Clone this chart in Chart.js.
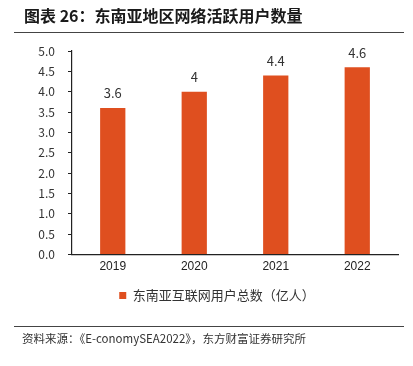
<!DOCTYPE html>
<html>
<head>
<meta charset="utf-8">
<script src="https://cdn.jsdelivr.net/npm/chart.js@4/dist/chart.umd.min.js"></script>
<style>
  html, body { margin: 0; padding: 0; background: #fff; }
  #wrap { width: 413px; height: 366px; position: relative; }
</style>
</head>
<body>
<div id="wrap"><canvas id="chart" width="413" height="366"></canvas></div>
<script>
// --- data ---
const years = ['2019', '2020', '2021', '2022'];
const users = [3.6, 4, 4.4, 4.6];
const seriesName = '东南亚互联网用户总数（亿人）';
const yTicks = [0, 0.5, 1, 1.5, 2, 2.5, 3, 3.5, 4, 4.5, 5];

const titleText = '图表 26：东南亚地区网络活跃用户数量';
const sourceText = '资料来源：《E-conomySEA2022》，东方财富证券研究所';
const barColor = '#DF4F1F';
const cjk = "'Noto Sans CJK SC', sans-serif";

// 标题、分隔线、来源 + 数据标签
const decor = {
  id: 'decor',
  afterDraw(chart) {
    const ctx = chart.ctx;
    ctx.save();
    ctx.fillStyle = '#1a1a1a';
    ctx.font = "bold 16px " + cjk;
    ctx.textBaseline = 'middle';
    ctx.textAlign = 'left';
    ctx.fillText(titleText, 24, 16);

    ctx.strokeStyle = '#444';
    ctx.lineWidth = 1.2;
    ctx.beginPath(); ctx.moveTo(14, 32.5); ctx.lineTo(404, 32.5); ctx.stroke();
    ctx.beginPath(); ctx.moveTo(14, 326.5); ctx.lineTo(404, 326.5); ctx.stroke();

    ctx.fillStyle = '#333';
    ctx.font = "11.5px " + cjk;
    ctx.fillText(sourceText, 22, 339);

    // 柱顶数值
    const meta = chart.getDatasetMeta(0);
    ctx.font = "13px " + cjk;
    ctx.textAlign = 'center';
    ctx.textBaseline = 'bottom';
    meta.data.forEach((bar, i) => {
      ctx.fillText(String(users[i]), bar.x, bar.y - 8);
    });
    ctx.restore();
  }
};

new Chart(document.getElementById('chart'), {
  type: 'bar',
  data: {
    labels: years,
    datasets: [{
      label: seriesName,
      data: users,
      backgroundColor: barColor,
      barPercentage: 0.31,
      categoryPercentage: 1.0
    }]
  },
  options: {
    responsive: false,
    animation: false,
    events: [],
    layout: { padding: { top: 51, right: 15, bottom: 54, left: 36 } },
    plugins: {
      legend: {
        position: 'bottom',
        labels: {
          boxWidth: 7, boxHeight: 7, padding: 10,
          color: '#333',
          font: { size: 13, family: cjk }
        }
      },
      tooltip: { enabled: false }
    },
    scales: {
      x: {
        grid: { display: false, drawTicks: false },
        border: { color: '#222', width: 1.2 },
        ticks: { color: '#222', font: { size: 12, family: "'Liberation Sans', sans-serif" }, padding: 5 }
      },
      y: {
        min: 0, max: 5,
        afterFit(scale) { scale.width = 36; },
        afterBuildTicks(scale) { scale.ticks = yTicks.map(v => ({ value: v })); },
        grid: { drawOnChartArea: false, tickLength: 4, color: '#222' },
        border: { color: '#222', width: 1.2 },
        ticks: {
          color: '#333',
          padding: 13,
          font: { size: 12, family: cjk },
          callback: v => v.toFixed(1)
        }
      }
    }
  },
  plugins: [decor]
});
</script>
</body>
</html>
